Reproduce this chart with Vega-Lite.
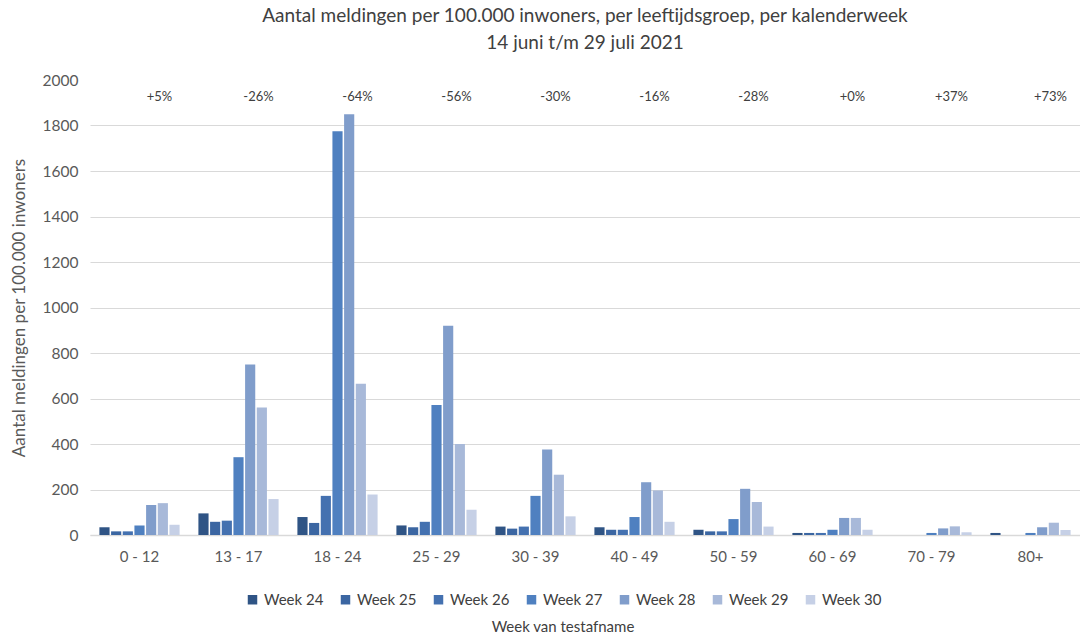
{
  "$schema": "https://vega.github.io/schema/vega-lite/v6.json",
  "autosize": {"type": "none"},
  "width": 990,
  "height": 455,
  "padding": {"left": 90, "top": 80, "right": 0, "bottom": 109},
  "background": "white",
  "config": {
    "font": "Lato",
    "view": {"stroke": null},
    "axis": {"labelFont": "Lato", "titleFont": "Lato", "labelColor": "#595959", "titleColor": "#595959"}
  },
  "title": {
    "text": ["Aantal meldingen per 100.000 inwoners, per leeftijdsgroep, per kalenderweek", "14 juni t/m 29 juli 2021"],
    "anchor": "middle",
    "frame": "group",
    "fontSize": 19,
    "fontWeight": "normal",
    "color": "#404040",
    "lineHeight": 27,
    "offset": 20
  },
  "datasets": {
    "bars": [
      {"groep": "0 - 12", "week": "Week 24", "waarde": 34},
      {"groep": "0 - 12", "week": "Week 25", "waarde": 16},
      {"groep": "0 - 12", "week": "Week 26", "waarde": 16},
      {"groep": "0 - 12", "week": "Week 27", "waarde": 42},
      {"groep": "0 - 12", "week": "Week 28", "waarde": 132},
      {"groep": "0 - 12", "week": "Week 29", "waarde": 140},
      {"groep": "0 - 12", "week": "Week 30", "waarde": 45},
      {"groep": "13 - 17", "week": "Week 24", "waarde": 95},
      {"groep": "13 - 17", "week": "Week 25", "waarde": 58},
      {"groep": "13 - 17", "week": "Week 26", "waarde": 63},
      {"groep": "13 - 17", "week": "Week 27", "waarde": 342},
      {"groep": "13 - 17", "week": "Week 28", "waarde": 750},
      {"groep": "13 - 17", "week": "Week 29", "waarde": 560},
      {"groep": "13 - 17", "week": "Week 30", "waarde": 158},
      {"groep": "18 - 24", "week": "Week 24", "waarde": 79},
      {"groep": "18 - 24", "week": "Week 25", "waarde": 53},
      {"groep": "18 - 24", "week": "Week 26", "waarde": 172},
      {"groep": "18 - 24", "week": "Week 27", "waarde": 1775},
      {"groep": "18 - 24", "week": "Week 28", "waarde": 1850},
      {"groep": "18 - 24", "week": "Week 29", "waarde": 665},
      {"groep": "18 - 24", "week": "Week 30", "waarde": 178},
      {"groep": "25 - 29", "week": "Week 24", "waarde": 42},
      {"groep": "25 - 29", "week": "Week 25", "waarde": 34},
      {"groep": "25 - 29", "week": "Week 26", "waarde": 58},
      {"groep": "25 - 29", "week": "Week 27", "waarde": 571},
      {"groep": "25 - 29", "week": "Week 28", "waarde": 920},
      {"groep": "25 - 29", "week": "Week 29", "waarde": 400},
      {"groep": "25 - 29", "week": "Week 30", "waarde": 111},
      {"groep": "30 - 39", "week": "Week 24", "waarde": 37},
      {"groep": "30 - 39", "week": "Week 25", "waarde": 28},
      {"groep": "30 - 39", "week": "Week 26", "waarde": 37},
      {"groep": "30 - 39", "week": "Week 27", "waarde": 172},
      {"groep": "30 - 39", "week": "Week 28", "waarde": 376},
      {"groep": "30 - 39", "week": "Week 29", "waarde": 265},
      {"groep": "30 - 39", "week": "Week 30", "waarde": 82},
      {"groep": "40 - 49", "week": "Week 24", "waarde": 34},
      {"groep": "40 - 49", "week": "Week 25", "waarde": 23},
      {"groep": "40 - 49", "week": "Week 26", "waarde": 23},
      {"groep": "40 - 49", "week": "Week 27", "waarde": 79},
      {"groep": "40 - 49", "week": "Week 28", "waarde": 232},
      {"groep": "40 - 49", "week": "Week 29", "waarde": 196},
      {"groep": "40 - 49", "week": "Week 30", "waarde": 58},
      {"groep": "50 - 59", "week": "Week 24", "waarde": 23},
      {"groep": "50 - 59", "week": "Week 25", "waarde": 16},
      {"groep": "50 - 59", "week": "Week 26", "waarde": 16},
      {"groep": "50 - 59", "week": "Week 27", "waarde": 70},
      {"groep": "50 - 59", "week": "Week 28", "waarde": 203},
      {"groep": "50 - 59", "week": "Week 29", "waarde": 145},
      {"groep": "50 - 59", "week": "Week 30", "waarde": 37},
      {"groep": "60 - 69", "week": "Week 24", "waarde": 9},
      {"groep": "60 - 69", "week": "Week 25", "waarde": 9},
      {"groep": "60 - 69", "week": "Week 26", "waarde": 9},
      {"groep": "60 - 69", "week": "Week 27", "waarde": 23},
      {"groep": "60 - 69", "week": "Week 28", "waarde": 75},
      {"groep": "60 - 69", "week": "Week 29", "waarde": 75},
      {"groep": "60 - 69", "week": "Week 30", "waarde": 23},
      {"groep": "70 - 79", "week": "Week 24", "waarde": 0},
      {"groep": "70 - 79", "week": "Week 25", "waarde": 0},
      {"groep": "70 - 79", "week": "Week 26", "waarde": 0},
      {"groep": "70 - 79", "week": "Week 27", "waarde": 9},
      {"groep": "70 - 79", "week": "Week 28", "waarde": 29},
      {"groep": "70 - 79", "week": "Week 29", "waarde": 38},
      {"groep": "70 - 79", "week": "Week 30", "waarde": 12},
      {"groep": "80+", "week": "Week 24", "waarde": 9},
      {"groep": "80+", "week": "Week 25", "waarde": 0},
      {"groep": "80+", "week": "Week 26", "waarde": 0},
      {"groep": "80+", "week": "Week 27", "waarde": 9},
      {"groep": "80+", "week": "Week 28", "waarde": 34},
      {"groep": "80+", "week": "Week 29", "waarde": 54},
      {"groep": "80+", "week": "Week 30", "waarde": 22}
    ],
    "labels": [
      {"groep": "0 - 12", "label": "+5%", "pos": 1925},
      {"groep": "13 - 17", "label": "-26%", "pos": 1925},
      {"groep": "18 - 24", "label": "-64%", "pos": 1925},
      {"groep": "25 - 29", "label": "-56%", "pos": 1925},
      {"groep": "30 - 39", "label": "-30%", "pos": 1925},
      {"groep": "40 - 49", "label": "-16%", "pos": 1925},
      {"groep": "50 - 59", "label": "-28%", "pos": 1925},
      {"groep": "60 - 69", "label": "+0%", "pos": 1925},
      {"groep": "70 - 79", "label": "+37%", "pos": 1925},
      {"groep": "80+", "label": "+73%", "pos": 1925}
    ]
  },
  "layer": [
    {
      "data": {"name": "bars"},
      "mark": {"type": "bar"},
      "encoding": {
        "x": {
          "field": "groep",
          "type": "nominal",
          "sort": null,
          "scale": {"paddingInner": 0.19, "paddingOuter": 0.095},
          "axis": {
            "title": null,
            "labelAngle": 0,
            "labelFontSize": 15,
            "labelPadding": 14,
            "ticks": false,
            "domainColor": "#d9d9d9",
            "domainWidth": 1.5
          }
        },
        "xOffset": {"field": "week", "type": "nominal", "scale": {"paddingInner": 0.13}},
        "y": {
          "field": "waarde",
          "type": "quantitative",
          "scale": {"domain": [0, 2000], "nice": false},
          "axis": {
            "title": "Aantal meldingen per 100.000 inwoners",
            "titleFontSize": 17,
            "titleFontWeight": "normal",
            "titlePadding": 14,
            "format": "d",
            "values": [0, 200, 400, 600, 800, 1000, 1200, 1400, 1600, 1800, 2000],
            "labelFontSize": 15.5,
            "labelPadding": 12,
            "ticks": false,
            "domain": false,
            "gridColor": {"condition": {"test": "datum.value == 2000", "value": "white"}, "value": "#d9d9d9"},
            "gridWidth": 1.2
          }
        },
        "color": {
          "field": "week",
          "type": "nominal",
          "scale": {
            "domain": ["Week 24", "Week 25", "Week 26", "Week 27", "Week 28", "Week 29", "Week 30"],
            "range": ["#2f5485", "#3b66a2", "#4471b0", "#4f80c0", "#809dcb", "#a8b9d9", "#c6d0e6"]
          },
          "legend": {
            "title": "Week van testafname",
            "titleOrient": "bottom",
            "titleAnchor": "middle",
            "titleFontSize": 15,
            "titleFontWeight": "normal",
            "titleColor": "#404040",
            "titlePadding": 12,
            "orient": "none",
            "legendX": 155,
            "legendY": 512,
            "direction": "horizontal",
            "columns": 7,
            "columnPadding": 14,
            "symbolType": "square",
            "symbolSize": 90,
            "symbolStrokeWidth": 0,
            "labelFontSize": 15,
            "labelColor": "#404040",
            "labelOffset": 4
          }
        }
      }
    },
    {
      "data": {"name": "labels"},
      "mark": {"type": "text", "fontSize": 13, "color": "#404040", "dx": 20},
      "encoding": {
        "x": {"field": "groep", "type": "nominal", "sort": null},
        "y": {"field": "pos", "type": "quantitative"},
        "text": {"field": "label"}
      }
    }
  ]
}
